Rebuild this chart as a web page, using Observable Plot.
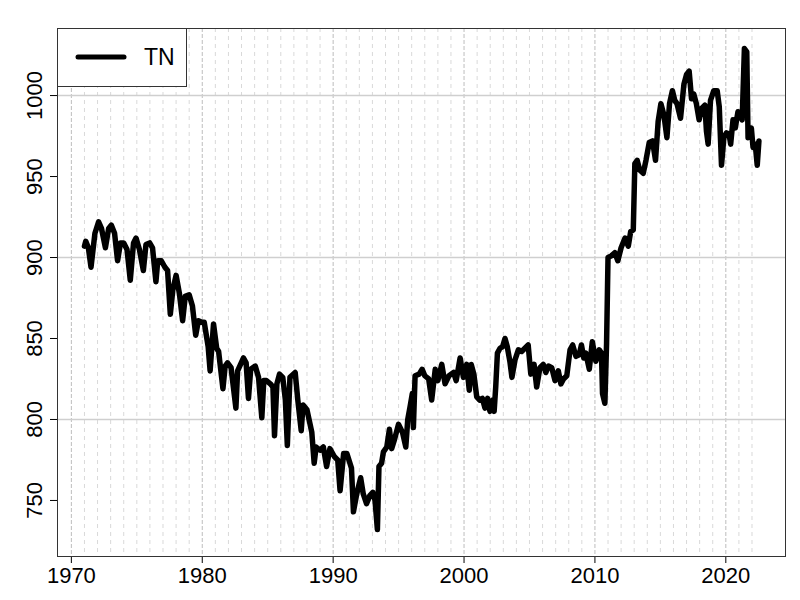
<!DOCTYPE html>
<html>
<head>
<meta charset="utf-8">
<script src="https://cdn.jsdelivr.net/npm/d3@7"></script>
<script src="https://cdn.jsdelivr.net/npm/@observablehq/plot@0.6"></script>
<style>
  body { margin: 0; background: #fff; }
  #chart { position: relative; width: 800px; height: 600px; }
</style>
</head>
<body>
<div id="chart"></div>
<script>
const seriesName = "TN";
const years = [
  1971.00,1971.10,1971.30,1971.50,1971.80,1972.08,1972.30,1972.60,1972.85,1973.05,
  1973.30,1973.53,1973.75,1974.00,1974.25,1974.50,1974.75,1974.94,1975.20,1975.50,
  1975.70,1975.98,1976.20,1976.46,1976.60,1976.87,1977.15,1977.35,1977.56,1977.75,
  1978.00,1978.25,1978.50,1978.70,1979.00,1979.25,1979.50,1979.70,1979.95,1980.15,
  1980.45,1980.60,1980.86,1981.10,1981.25,1981.58,1981.75,1981.93,1982.20,1982.57,
  1982.70,1983.15,1983.35,1983.53,1983.70,1984.05,1984.30,1984.55,1984.70,1984.90,
  1985.20,1985.40,1985.52,1985.70,1985.90,1986.15,1986.35,1986.50,1986.70,1987.10,
  1987.30,1987.56,1987.70,1988.00,1988.37,1988.55,1988.70,1989.00,1989.25,1989.50,
  1989.75,1990.10,1990.35,1990.53,1990.80,1991.05,1991.40,1991.55,1991.80,1992.10,
  1992.30,1992.55,1992.80,1993.03,1993.20,1993.38,1993.50,1993.70,1993.84,1994.10,
  1994.30,1994.47,1994.70,1994.99,1995.30,1995.55,1995.70,1995.88,1996.05,1996.13,
  1996.26,1996.57,1996.80,1997.00,1997.30,1997.53,1997.80,1998.00,1998.30,1998.55,
  1998.85,1999.20,1999.40,1999.70,1999.95,2000.20,2000.40,2000.55,2000.75,2000.97,
  2001.20,2001.40,2001.60,2001.80,2001.98,2002.20,2002.30,2002.42,2002.55,2002.75,
  2002.95,2003.13,2003.30,2003.50,2003.66,2003.90,2004.15,2004.40,2004.65,2004.90,
  2005.10,2005.35,2005.55,2005.80,2006.05,2006.25,2006.45,2006.70,2006.95,2007.20,
  2007.40,2007.60,2007.85,2008.10,2008.30,2008.55,2008.80,2008.97,2009.15,2009.30,
  2009.57,2009.80,2010.07,2010.33,2010.50,2010.58,2010.76,2010.89,2011.00,2011.25,
  2011.52,2011.75,2012.00,2012.30,2012.55,2012.73,2012.93,2013.05,2013.23,2013.42,
  2013.69,2013.90,2014.15,2014.40,2014.63,2014.83,2015.04,2015.27,2015.50,2015.70,
  2015.92,2016.10,2016.27,2016.54,2016.80,2017.00,2017.20,2017.38,2017.55,2017.75,
  2017.96,2018.15,2018.40,2018.52,2018.65,2018.83,2019.08,2019.34,2019.50,2019.67,
  2019.85,2020.05,2020.25,2020.37,2020.55,2020.72,2020.93,2021.10,2021.25,2021.42,
  2021.60,2021.70,2021.82,2021.95,2022.08,2022.25,2022.40,2022.53
];
const values = [
  907,910,906,894,915,922,918,906,918,920,
  915,898,909,909,905,886,909,912,905,892,
  908,909,906,885,898,898,894,892,865,880,
  889,878,861,876,877,870,852,861,860,860,
  845,830,859,844,842,819,833,835,832,807,
  830,838,835,813,831,833,826,801,824,824,
  822,820,790,822,828,826,812,784,826,829,
  812,793,809,806,792,773,783,781,783,771,
  782,777,775,756,779,779,770,743,754,764,
  754,748,753,755,750,732,771,773,780,783,
  794,782,788,797,792,783,800,808,816,795,
  827,828,831,827,825,812,831,824,834,822,
  827,829,824,838,826,834,818,834,828,814,
  812,813,807,813,805,812,805,820,841,844,
  845,850,845,836,826,837,843,842,844,846,
  828,834,820,832,834,829,833,832,824,830,
  822,825,827,843,846,839,840,846,838,841,
  831,848,836,843,841,816,810,847,900,901,
  903,898,906,912,907,916,917,958,960,954,
  952,960,971,972,960,984,995,988,974,995,
  1003,997,995,986,1007,1013,1015,998,1001,995,
  985,992,994,978,970,997,1003,1003,993,957,
  974,977,976,970,985,980,990,989,985,1029,
  1027,974,980,980,968,970,957,972
];
const xTicks = [1970, 1980, 1990, 2000, 2010, 2020];
const yTicks = [750, 800, 850, 900, 950, 1000];
const yGrid = [800, 900, 1000];
const yearGrid = d3.range(1970, 2023).filter(y => y % 10 !== 0);

const data = years.map((t, i) => ({t, v: values[i]}));
const font = "'Liberation Sans', Arial, Helvetica, sans-serif";

const plot = Plot.plot({
  width: 800,
  height: 600,
  marginLeft: 57,
  marginRight: 15,
  marginTop: 28,
  marginBottom: 44,
  x: {domain: [1968.94, 2024.56]},
  y: {domain: [715.4, 1041.4]},
  style: {fontFamily: font, background: "#fff", color: "#000"},
  marks: [
    Plot.ruleX(yearGrid, {stroke: "#d9d9d9", strokeWidth: 1, strokeDasharray: "4,4"}),
    Plot.ruleX(xTicks, {stroke: "#bdbdbd", strokeWidth: 1, strokeDasharray: "4,2"}),
    Plot.ruleY(yGrid, {stroke: "#cfcfcf", strokeWidth: 1.5}),
    Plot.line(data, {x: "t", y: "v", stroke: "#000", strokeWidth: 5.5, strokeLinejoin: "round", strokeLinecap: "round"}),
    Plot.axisX({ticks: xTicks, tickFormat: "d", tickSize: 7, tickPadding: 4, fontSize: 22, label: null, color: "#000"}),
    Plot.axisY({ticks: yTicks, tickFormat: "d", tickSize: 7, tickPadding: 9, tickRotate: -90, fontSize: 22, label: null, color: "#000"}),
    Plot.frame({stroke: "#333", strokeWidth: 1})
  ]
});
document.getElementById("chart").appendChild(plot);

// legend inside the top-left corner of the plot area
const svg = d3.select(plot);
const lg = svg.append("g").attr("text-anchor", "start");
lg.append("rect").attr("x", 57.5).attr("y", 28.5).attr("width", 129).attr("height", 58)
  .attr("fill", "#fff").attr("stroke", "#333").attr("stroke-width", 1);
lg.append("line").attr("x1", 78).attr("x2", 124).attr("y1", 57).attr("y2", 57)
  .attr("stroke", "#000").attr("stroke-width", 5).attr("stroke-linecap", "round");
lg.append("text").attr("x", 144).attr("y", 57).attr("dy", "0.36em").attr("text-anchor", "start")
  .style("font-size", "23px").attr("fill", "#000").text(seriesName);
</script>
</body>
</html>
